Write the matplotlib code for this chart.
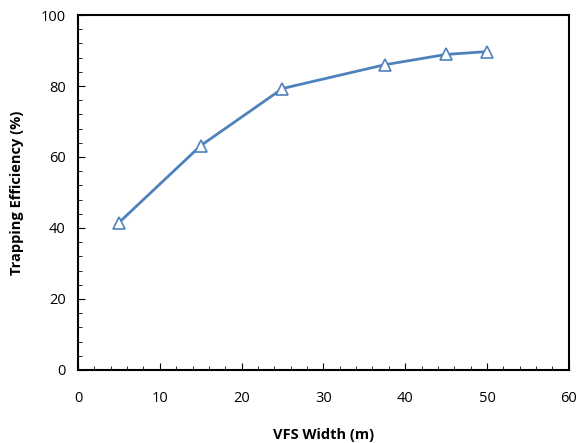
import matplotlib
matplotlib.use("Agg")
import matplotlib.pyplot as plt
from matplotlib.ticker import MultipleLocator

# VFS width (m) and trapping efficiency (%)
vfsWidth = [5, 15, 25, 37.5, 45, 50]
trapEff = [41.5, 63.2, 79.3, 86.0, 88.9, 89.7]

plt.rcParams['font.family'] = ['Open Sans', 'DejaVu Sans']

fig = plt.figure(figsize=(5.78, 4.43), dpi=100)
ax = fig.add_axes([0.135, 0.165, 0.849, 0.801])

ax.plot(vfsWidth, trapEff, color='#4F81BD', linewidth=2.0,
        marker='^', markersize=9, markerfacecolor='white',
        markeredgecolor='#4F81BD', markeredgewidth=1.2)

ax.set_xlim(0, 60)
ax.set_ylim(0, 100)
ax.xaxis.set_major_locator(MultipleLocator(10))
ax.xaxis.set_minor_locator(MultipleLocator(2))
ax.yaxis.set_major_locator(MultipleLocator(20))
ax.yaxis.set_minor_locator(MultipleLocator(4))
ax.tick_params(which='both', direction='in', top=False, right=False,
               labelsize=10.5)
ax.tick_params(axis='x', pad=15)
ax.tick_params(axis='y', pad=9)
ax.tick_params(which='major', length=5)
ax.tick_params(which='minor', length=3)
for s in ax.spines.values():
    s.set_linewidth(1.5)

ax.set_xlabel('VFS Width (m)', fontsize=10.5, fontweight='bold', labelpad=16)
ax.set_ylabel('Trapping Efficiency (%)', fontsize=10.5, fontweight='bold', labelpad=12)

fig.savefig('out.png', dpi=100)
